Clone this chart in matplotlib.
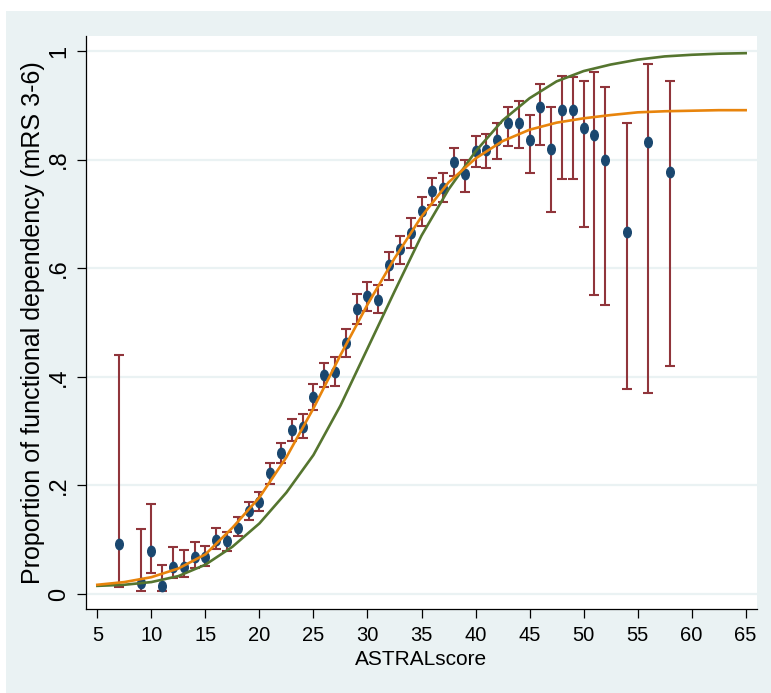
import matplotlib
matplotlib.use("Agg")
import matplotlib.pyplot as plt
from matplotlib.patches import Rectangle
from matplotlib.path import Path
from matplotlib.transforms import Affine2D

# ASTRAL score groups with observed proportion and 95% CI
astral = [7, 9, 10, 11, 12, 13, 14, 15, 16, 17, 18, 19, 20, 21, 22, 23, 24, 25,
          26, 27, 28, 29, 30, 31, 32, 33, 34, 35, 36, 37, 38, 39, 40, 41, 42, 43,
          44, 45, 46, 47, 48, 49, 50, 51, 52, 54, 56, 58]
prop = [0.092, 0.020, 0.080, 0.015, 0.049, 0.050, 0.068, 0.069, 0.100, 0.097,
        0.122, 0.153, 0.170, 0.222, 0.260, 0.302, 0.308, 0.362, 0.404, 0.408,
        0.463, 0.525, 0.549, 0.541, 0.606, 0.635, 0.664, 0.706, 0.743, 0.747,
        0.796, 0.773, 0.816, 0.818, 0.837, 0.867, 0.868, 0.837, 0.896, 0.820,
        0.891, 0.891, 0.858, 0.845, 0.800, 0.667, 0.833, 0.778]
ci_low = [0.013, 0.005, 0.038, 0.005, 0.029, 0.031, 0.047, 0.052, 0.083, 0.079,
          0.107, 0.137, 0.152, 0.202, 0.241, 0.281, 0.287, 0.339, 0.382, 0.383,
          0.436, 0.497, 0.521, 0.517, 0.578, 0.608, 0.637, 0.678, 0.716, 0.721,
          0.769, 0.741, 0.786, 0.784, 0.801, 0.825, 0.822, 0.775, 0.826, 0.703,
          0.764, 0.764, 0.675, 0.551, 0.532, 0.377, 0.370, 0.420]
ci_high = [0.440, 0.119, 0.165, 0.053, 0.087, 0.081, 0.096, 0.088, 0.121, 0.115,
           0.141, 0.170, 0.187, 0.241, 0.279, 0.323, 0.331, 0.386, 0.426, 0.436,
           0.488, 0.552, 0.575, 0.569, 0.630, 0.659, 0.692, 0.732, 0.767, 0.775,
           0.822, 0.800, 0.843, 0.847, 0.868, 0.897, 0.907, 0.883, 0.940, 0.897,
           0.954, 0.953, 0.945, 0.962, 0.934, 0.868, 0.976, 0.945]

# fitted curves
curve_x = [5, 7.5, 10, 12.5, 15, 17.5, 20, 22.5, 25, 27.5, 30, 32.5, 35, 37.5,
           40, 42.5, 45, 47.5, 50, 52.5, 55, 57.5, 60, 62.5, 65]
green_fit = [0.015, 0.017, 0.022, 0.033, 0.054, 0.087, 0.130, 0.187, 0.256,
             0.347, 0.452, 0.557, 0.660, 0.745, 0.815, 0.872, 0.913, 0.944,
             0.963, 0.975, 0.984, 0.990, 0.993, 0.995, 0.996]
orange_fit = [0.017, 0.022, 0.031, 0.047, 0.073, 0.122, 0.178, 0.252, 0.342,
              0.440, 0.533, 0.618, 0.695, 0.758, 0.802, 0.834, 0.855, 0.868,
              0.876, 0.882, 0.887, 0.889, 0.890, 0.891, 0.891]

x_ticks = list(range(5, 70, 5))
y_ticks = [0, 0.2, 0.4, 0.6, 0.8, 1]
y_ticklabels = ["0", ".2", ".4", ".6", ".8", "1"]

plt.rcParams["font.family"] = ["Liberation Sans", "DejaVu Sans"]

W, H = 771, 693
fig = plt.figure(figsize=(W / 100, H / 100), dpi=100)
fig.patch.set_facecolor("white")
fig.add_artist(Rectangle((6 / W, 0), 1, 1 - 11 / H, transform=fig.transFigure,
                         facecolor="#EAF2F3", edgecolor="none", zorder=0))

ax = fig.add_axes([86 / W, 1 - 609 / H, (757 - 86) / W, (609 - 36) / H])
ax.set_facecolor("white")

# squeezed dot marker
oval = Path.unit_circle().transformed(Affine2D().scale(0.73, 1.0))

yerr = [[p - l for p, l in zip(prop, ci_low)], [h - p for p, h in zip(prop, ci_high)]]
ax.errorbar(astral, prop, yerr=yerr, fmt="none", ecolor="#90353B",
            elinewidth=1.5, capsize=3.4, capthick=1.5, zorder=3)
ax.plot(astral, prop, linestyle="none", marker=oval, markersize=7.5,
        color="#1A476F", zorder=4)

ax.plot(curve_x, green_fit, color="#55752F", linewidth=1.9, zorder=5)
ax.plot(curve_x, orange_fit, color="#E8840C", linewidth=1.9, zorder=6)

ax.set_xlim(3.95, 66.05)
ax.set_ylim(-0.0276, 1.0276)
ax.set_xticks(x_ticks)
ax.set_yticks(y_ticks)
ax.set_yticklabels(y_ticklabels, rotation=90, va="center")
ax.grid(axis="y", color="#EAF2F3", linewidth=1.6)
ax.set_axisbelow(True)

for side in ["top", "right"]:
    ax.spines[side].set_visible(False)
for side in ["left", "bottom"]:
    ax.spines[side].set_linewidth(0.9)
    ax.spines[side].set_color("black")

ax.tick_params(axis="both", length=6.5, width=0.9, color="black")
ax.tick_params(axis="x", pad=6, labelsize=14.5)
ax.tick_params(axis="y", pad=5, labelsize=17)

ax.set_xlabel("ASTRALscore", fontsize=15, labelpad=3)
ax.set_ylabel("Proportion of functional dependency (mRS 3-6)", fontsize=18, labelpad=2)

fig.savefig("out.png", dpi=100)
